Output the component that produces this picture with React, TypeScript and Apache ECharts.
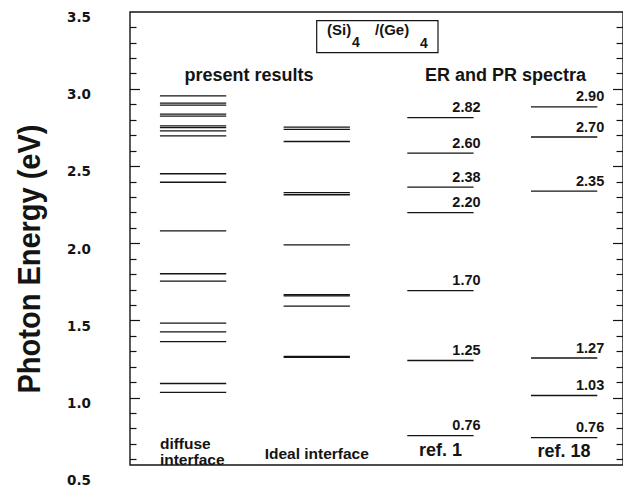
import React, { useEffect, useRef } from "react";
import * as echarts from "echarts";

// ---------- data ----------
const columnNames = ["diffuse\ninterface", "Ideal interface", "ref. 1", "ref. 18"];
const groupHeaders = ["present results", "ER and PR spectra"];
const yAxisTitle = "Photon Energy (eV)";

const diffuseLevels = [2.956, 2.909, 2.896, 2.838, 2.825, 2.762, 2.751, 2.73, 2.698, 2.452, 2.397, 2.082, 1.804, 1.756, 1.484, 1.428, 1.364, 1.093, 1.036];
const idealLevels = [2.754, 2.739, 2.661, 2.329, 2.316, 1.991, 1.668, 1.66, 1.594, 1.268, 1.262];
const ref1Levels = [2.815, 2.585, 2.365, 2.2, 1.695, 1.242, 0.755];
const ref1Labels = ["2.82", "2.60", "2.38", "2.20", "1.70", "1.25", "0.76"];
const ref18Levels = [2.885, 2.69, 2.34, 1.258, 1.015, 0.742];
const ref18Labels = ["2.90", "2.70", "2.35", "1.27", "1.03", "0.76"];

const energyMin = 0.5;
const energyMax = 3.5;
const energyStep = 0.5;
const majorTickValues = [1.0, 1.5, 2.0, 2.5, 3.0];
const minorTickValues = [0.6, 0.7, 0.8, 0.9, 1.1, 1.2, 1.3, 1.4, 1.6, 1.7, 1.8, 1.9, 2.1, 2.2, 2.3, 2.4, 2.6, 2.7, 2.8, 2.9, 3.1, 3.2, 3.3, 3.4];

// ---------- style / layout ----------
const INK = "#141414";
const SANS = '"Liberation Sans", Arial, sans-serif';
const WIDE = '"DejaVu Sans", sans-serif';
const HALF = 0.268; // half line width in column units
const FRAME_BOTTOM = 0.565; // energy at which the drawn frame ends

function levelSeries(col: number, levels: number[], labels?: string[]) {
  return {
    type: "custom",
    coordinateSystem: "cartesian2d",
    silent: true,
    data: levels.map((e) => [col, e]),
    renderItem: (params: any, api: any) => {
      const p = api.coord([api.value(0), api.value(1)]);
      const half = api.size([HALF, 0])[0];
      const children: any[] = [
        {
          type: "line",
          shape: { x1: p[0] - half, y1: p[1], x2: p[0] + half, y2: p[1] },
          style: { stroke: INK, lineWidth: 1.3 },
        },
      ];
      if (labels) {
        children.push({
          type: "text",
          style: {
            text: labels[params.dataIndex],
            x: p[0] + half + 7,
            y: p[1] - 3,
            align: "right",
            verticalAlign: "bottom",
            fontFamily: SANS,
            fontWeight: "bold",
            fontSize: 14.5,
            fill: INK,
          },
        });
      }
      return { type: "group", children };
    },
  };
}

const catOffsets = [-13.5, -11, -15, -14];
const catSizes = [15.5, 15.5, 18, 18];

export default function App() {
  const ref = useRef<HTMLDivElement>(null);
  useEffect(() => {
    const chart = echarts.init(ref.current!, null, { renderer: "svg" });
    const yBase = {
      type: "value",
      min: energyMin,
      max: energyMax,
      interval: energyStep,
      axisLine: { show: false, onZero: false },
      splitLine: { show: false },
    };
    const tickStyle = { color: INK, width: 1.2 };
    const option: any = {
      animation: false,
      backgroundColor: "#fff",
      grid: { left: 130, right: -2, top: 12, bottom: 11 },
      xAxis: { type: "value", min: -0.51, max: 3.476, show: false, axisLine: { onZero: false } },
      yAxis: [
        {
          ...yBase,
          position: "left",
          axisTick: { show: true, inside: true, length: 10, customValues: majorTickValues, lineStyle: tickStyle },
          axisLabel: {
            show: true,
            margin: 39,
            verticalAlign: "top",
            lineHeight: 10,
            fontFamily: WIDE,
            fontWeight: "bold",
            fontSize: 13.5,
            color: INK,
            formatter: (v: number) => v.toFixed(1),
          },
        },
        {
          ...yBase,
          position: "left",
          axisTick: { show: true, inside: true, length: 6.5, customValues: minorTickValues, lineStyle: tickStyle },
          axisLabel: { show: false },
        },
        {
          ...yBase,
          position: "right",
          axisTick: { show: true, inside: true, length: 10, customValues: majorTickValues, lineStyle: tickStyle },
          axisLabel: { show: false },
        },
        {
          ...yBase,
          position: "right",
          axisTick: { show: true, inside: true, length: 6.5, customValues: minorTickValues, lineStyle: tickStyle },
          axisLabel: { show: false },
        },
      ],
      series: [
        {
          type: "custom",
          coordinateSystem: "cartesian2d",
          silent: true,
          data: [[0, energyMax]],
          renderItem: (params: any, api: any) => {
            const cs = params.coordSys;
            const bottom = api.coord([0, FRAME_BOTTOM])[1];
            return {
              type: "rect",
              shape: { x: cs.x, y: cs.y, width: cs.width, height: bottom - cs.y },
              style: { fill: "none", stroke: INK, lineWidth: 1.4 },
            };
          },
        },
        levelSeries(0, diffuseLevels),
        levelSeries(1, idealLevels),
        levelSeries(2, ref1Levels, ref1Labels),
        levelSeries(3, ref18Levels, ref18Labels),
        {
          type: "custom",
          coordinateSystem: "cartesian2d",
          silent: true,
          data: columnNames.map((_, i) => [i, FRAME_BOTTOM]),
          renderItem: (params: any, api: any) => {
            const i = params.dataIndex;
            const p = api.coord([api.value(0), api.value(1)]);
            const half = api.size([HALF, 0])[0];
            return {
              type: "text",
              style: {
                text: columnNames[i],
                x: i === 0 ? p[0] - half : p[0],
                y: p[1] + catOffsets[i],
                align: i === 0 ? "left" : "center",
                verticalAlign: "middle",
                fontFamily: SANS,
                fontWeight: "bold",
                fontSize: catSizes[i],
                lineHeight: 16.7,
                fill: INK,
              },
            };
          },
        },
      ],
      graphic: [
        { type: "rect", shape: { x: 316.7, y: 20.7, width: 121.3, height: 32 }, style: { fill: "none", stroke: INK, lineWidth: 1.2 } },
        { type: "text", x: 327, y: 29.5, style: { text: "(Si)", fontFamily: SANS, fontWeight: "bold", fontSize: 15, fill: INK, verticalAlign: "middle" } },
        { type: "text", x: 352, y: 42.4, style: { text: "4", fontFamily: SANS, fontWeight: "bold", fontSize: 14, fill: INK, verticalAlign: "middle" } },
        { type: "text", x: 375, y: 29.5, style: { text: "/(Ge)", fontFamily: SANS, fontWeight: "bold", fontSize: 15, fill: INK, verticalAlign: "middle" } },
        { type: "text", x: 420, y: 43.4, style: { text: "4", fontFamily: SANS, fontWeight: "bold", fontSize: 14, fill: INK, verticalAlign: "middle" } },
        { type: "text", x: 249, y: 74.5, style: { text: groupHeaders[0], fontFamily: SANS, fontWeight: "bold", fontSize: 18, fill: INK, align: "center", verticalAlign: "middle" } },
        { type: "text", x: 505.5, y: 74.5, style: { text: groupHeaders[1], fontFamily: SANS, fontWeight: "bold", fontSize: 18, fill: INK, align: "center", verticalAlign: "middle" } },
        {
          type: "text",
          x: 28,
          y: 259,
          rotation: Math.PI / 2,
          scaleY: 1.1,
          style: { text: yAxisTitle, fontFamily: SANS, fontWeight: "bold", fontSize: 29, fill: INK, align: "center", verticalAlign: "middle" },
        },
      ],
    };
    chart.setOption(option);
    return () => chart.dispose();
  }, []);
  return (
    <div
      ref={ref}
      style={{ position: "absolute", left: 0, top: 0, width: 623, height: 487, background: "#fff" }}
    />
  );
}
